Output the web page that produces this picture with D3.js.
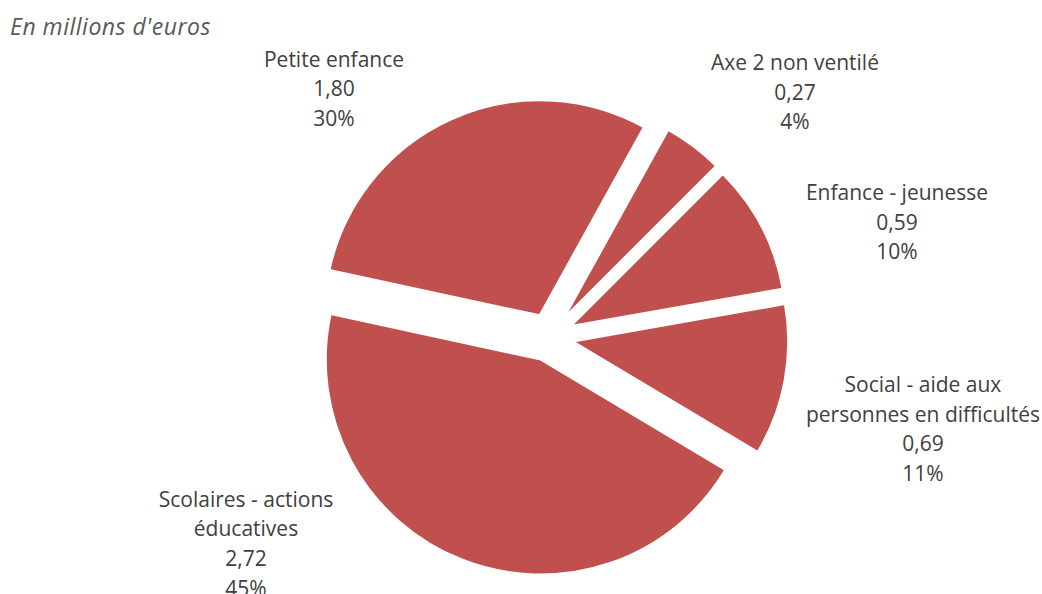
<!DOCTYPE html>
<html>
<head>
<meta charset="utf-8">
<script src="https://cdn.jsdelivr.net/npm/d3@7"></script>
<style>
  html, body { margin: 0; padding: 0; background: #ffffff; }
  svg { display: block; }
  text { font-family: "Open Sans", Lato, sans-serif; fill: #404040; }
</style>
</head>
<body>
<svg id="chart" width="1042" height="594"></svg>
<script>
// Budget breakdown, in millions of euros
const categories = [
  "Petite enfance",
  "Axe 2 non ventilé",
  "Enfance - jeunesse",
  "Social - aide aux personnes en difficultés",
  "Scolaires - actions éducatives"
];
const values = [1.80, 0.27, 0.59, 0.69, 2.72];
// Category names as they wrap inside each data label
const nameLines = [
  ["Petite enfance"],
  ["Axe 2 non ventilé"],
  ["Enfance - jeunesse"],
  ["Social - aide aux", "personnes en difficultés"],
  ["Scolaires - actions", "éducatives"]
];

// ---- layout ----
const cx = 549.6, cy = 337.2;      // pie centre
const radius = 215;
const explode = 24;                // every slice pulled out from the centre
const startDeg = -77.8;            // first slice angle
const lineH = 29.6;
const labelSize = 21;
// label block anchors: [centre x, first baseline y]
const labelAnchor = [
  [334, 66.5],
  [795, 70],
  [897, 200],
  [923, 392],
  [246, 506.7]
];

const svg = d3.select("#chart");

svg.append("text")
  .attr("x", 10).attr("y", 35)
  .style("font-style", "italic")
  .style("font-size", "23px")
  .style("letter-spacing", "0.5px")
  .style("fill", "#595959")
  .text("En millions d'euros");

const total = d3.sum(values);
const pie = d3.pie().sort(null).value(d => d)
  .startAngle(startDeg * Math.PI / 180)
  .endAngle(startDeg * Math.PI / 180 + 2 * Math.PI);
const arcs = pie(values);
const arc = d3.arc().innerRadius(0).outerRadius(radius);

const g = svg.append("g").attr("transform", `translate(${cx},${cy})`);

g.selectAll("path.slice")
  .data(arcs)
  .join("path")
  .attr("class", "slice")
  .attr("d", arc)
  .attr("transform", d => {
    const mid = (d.startAngle + d.endAngle) / 2;
    return `translate(${explode * Math.sin(mid)},${-explode * Math.cos(mid)})`;
  })
  .attr("fill", "#C0504D")
  .attr("stroke", "#ffffff")
  .attr("stroke-width", 2);

const fmtValue = v => d3.format(".2f")(v).replace(".", ",");
const fmtPct = v => Math.round(v / total * 100) + "%";

const labels = svg.append("g").attr("class", "labels");
values.forEach((v, i) => {
  const lines = nameLines[i].concat([fmtValue(v), fmtPct(v)]);
  const [lx, ly] = labelAnchor[i];
  const t = labels.append("text")
    .attr("text-anchor", "middle")
    .style("font-size", labelSize + "px");
  lines.forEach((s, j) => {
    t.append("tspan").attr("x", lx).attr("y", ly + j * lineH).text(s);
  });
});
</script>
</body>
</html>
